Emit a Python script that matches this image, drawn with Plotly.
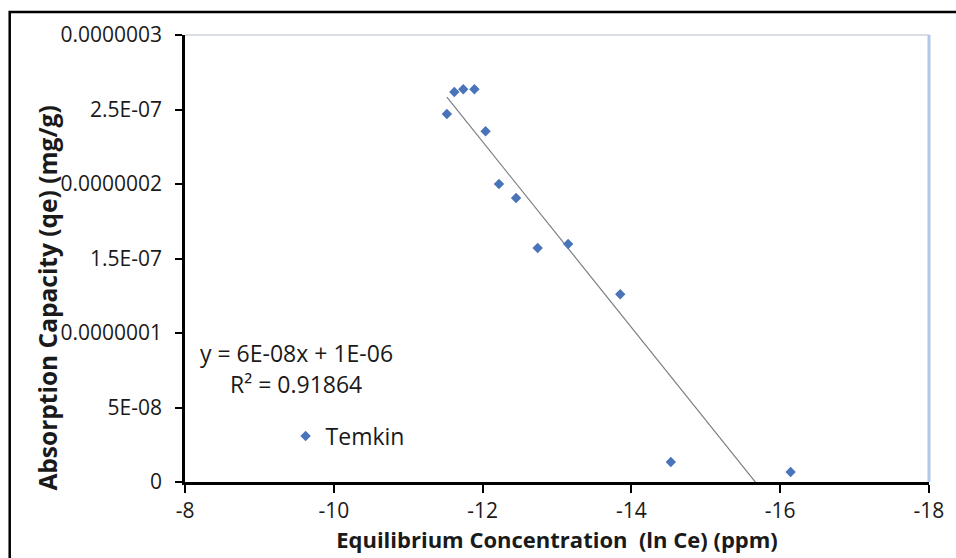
import numpy as np
import plotly.graph_objects as go

# Data (ln Ce, qe)
ln_ce = [-11.52, -11.62, -11.74, -11.89, -12.04, -12.22, -12.45, -12.74, -13.15, -13.85, -14.53, -16.14]
qe = [2.47e-7, 2.617e-7, 2.636e-7, 2.636e-7, 2.354e-7, 2.0e-7, 1.906e-7, 1.57e-7, 1.597e-7, 1.26e-7, 0.134e-7, 0.067e-7]

series_name = "Temkin"
x_ticks = [-8, -10, -12, -14, -16, -18]
x_tick_text = ["-8", "-10", "-12", "-14", "-16", "-18"]
y_ticks = [0, 5e-8, 1e-7, 1.5e-7, 2e-7, 2.5e-7, 3e-7]
y_tick_text = ["0", "5E-08", "0.0000001", "1.5E-07", "0.0000002", "2.5E-07", "0.0000003"]
equation_text = "y = 6E-08x + 1E-06"
r2_text = "R² = 0.91864"
x_title = "<b>Equilibrium Concentration  (ln Ce) (ppm)</b>"
y_title = "<b>Absorption Capacity (qe) (mg/g)</b>"

# Linear trendline
xs = np.array(ln_ce)
ys = np.array(qe)
slope, intercept = np.polyfit(xs, ys, 1)
x_line = np.array([xs.max(), xs.min()])
y_line = slope * x_line + intercept

FONT = "'Open Sans', Lato, sans-serif"
TXT = "#1a1a1a"

fig = go.Figure()
fig.add_trace(go.Scatter(
    x=x_line, y=y_line, mode="lines",
    line=dict(color="#7a7f87", width=1.2),
    showlegend=False, hoverinfo="skip",
))
fig.add_trace(go.Scatter(
    x=ln_ce, y=qe, mode="markers", name=series_name,
    marker=dict(symbol="diamond", size=8, color="#4a74b9"),
))

L, R, T, B = 185, 24, 35, 76
W, H = 956, 558
pw = W - L - R
ph = H - T - B

def px_x(p):
    return (p - L) / pw

def px_y(p):
    return 1 - (p - T) / ph

fig.update_layout(
    width=W, height=H,
    margin=dict(l=L, r=R, t=T, b=B),
    paper_bgcolor="white", plot_bgcolor="white",
    font=dict(family=FONT, size=21, color=TXT),
    showlegend=True,
    legend=dict(
        x=px_x(286), y=px_y(436), xanchor="left", yanchor="middle",
        bgcolor="rgba(0,0,0,0)", font=dict(size=23, family=FONT, color=TXT),
    ),
    xaxis=dict(
        range=[-8, -18], tickvals=x_ticks, ticktext=x_tick_text,
        showgrid=False, zeroline=False,
        showline=True, linecolor="black", linewidth=2.5,
        ticks="outside", ticklen=8, tickwidth=2, tickcolor="black",
        ticklabelstandoff=0,
        tickfont=dict(size=21, family=FONT, color=TXT),
        title=dict(text=x_title, font=dict(size=22, family=FONT, color=TXT), standoff=0),
    ),
    yaxis=dict(
        range=[0, 3e-7], tickvals=y_ticks, ticktext=y_tick_text,
        showgrid=False, zeroline=False,
        showline=True, linecolor="black", linewidth=2.5,
        ticks="outside", ticklen=7, tickwidth=2, tickcolor="black",
        ticklabelstandoff=9,
        tickfont=dict(size=21, family=FONT, color=TXT),
    ),
    annotations=[
        dict(xref="paper", yref="paper", x=px_x(46), y=px_y(298), xanchor="center", yanchor="middle",
             text=y_title, textangle=-90, showarrow=False,
             font=dict(size=24.5, family=FONT, color=TXT)),
        dict(xref="paper", yref="paper", x=px_x(198), y=px_y(353), xanchor="left", yanchor="middle",
             text=equation_text, showarrow=False, font=dict(size=23, family=FONT, color=TXT)),
        dict(xref="paper", yref="paper", x=px_x(228), y=px_y(384), xanchor="left", yanchor="middle",
             text=r2_text, showarrow=False, font=dict(size=23, family=FONT, color=TXT)),
    ],
    shapes=[
        # outer chart border
        dict(type="rect", xref="paper", yref="paper", x0=px_x(9), y0=px_y(575), x1=px_x(975), y1=px_y(12),
             line=dict(color="black", width=2.5), fillcolor="rgba(0,0,0,0)", layer="above"),
        # plot area frame (light top, bluish right)
        dict(type="line", xref="paper", yref="paper", x0=0, x1=1, y0=1, y1=1,
             line=dict(color="#d9dde4", width=2), layer="below"),
        dict(type="line", xref="paper", yref="paper", x0=1, x1=1, y0=0, y1=1,
             line=dict(color="#b4c6e6", width=3), layer="below"),
    ],
)

fig.write_html("out.html")
